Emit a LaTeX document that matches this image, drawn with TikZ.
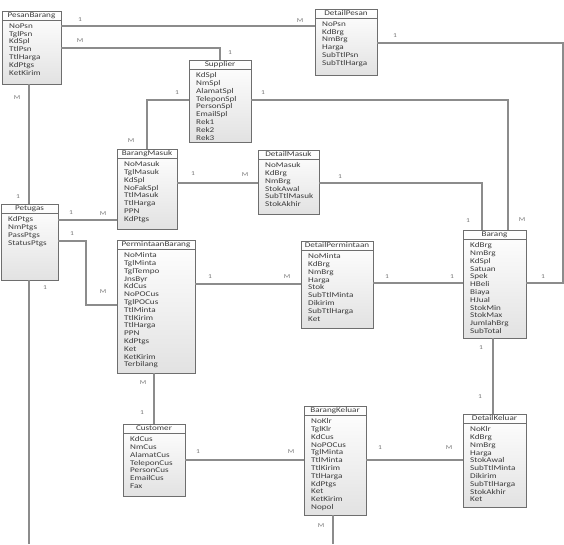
\documentclass[tikz,border=0pt]{standalone}
\usepackage{fontspec}
\newfontfamily\erfont[FakeStretch=1.25]{Carlito}
\usepackage{tikz}
\usetikzlibrary{positioning, calc, shadows}
\definecolor{boxline}{RGB}{110,110,110}
\definecolor{boxtop}{RGB}{255,255,255}
\definecolor{boxbot}{RGB}{226,226,226}
\definecolor{connline}{RGB}{140,140,140}
\definecolor{txtdark}{RGB}{60,60,60}
\definecolor{lblgray}{RGB}{120,120,120}
\tikzset{
  entbox/.style={rectangle, draw=boxline, top color=boxtop, bottom color=boxbot,
    line width=0.8pt, inner sep=0pt, outer sep=0pt, anchor=north west,
    drop shadow={shadow xshift=1.3pt, shadow yshift=-1.3pt, fill=black!45, opacity=0.5}},
  enttitle/.style={font=\erfont\fontsize{7.3}{7.8}\selectfont, text=txtdark,
    inner sep=0pt, text height=4.8pt, text depth=1.4pt},
  entattr/.style={font=\erfont\fontsize{7.3}{7.8}\selectfont, text=txtdark,
    align=left, inner xsep=0pt, inner ysep=3pt, anchor=north west},
  hdrline/.style={draw=boxline, line width=0.8pt},
  conn/.style={draw=connline, line width=1.1pt},
  lbl/.style={font=\erfont\fontsize{6}{6}\selectfont, text=lblgray, inner sep=0pt}
}
% entity box: name, x, y, width, height, title, attributes
\newcommand{\entity}[7]{%
  \node[entbox, minimum width=#4pt, minimum height=#5pt] (#1) at (#2,#3) {};
  \draw[hdrline] ([yshift=-9.5pt]#1.north west) -- ([yshift=-9.5pt]#1.north east);
  \node[enttitle] (#1-title) at ([yshift=-4.9pt]#1.north) {#6};
  \node[entattr] (#1-attr) at ([xshift=7pt,yshift=-9.5pt]#1.north west) {#7};
}

\begin{document}
\begin{tikzpicture}[x=1pt, y=-1pt]
  \fill[white] (0,0) rectangle (564,544);
  \useasboundingbox (0,0) rectangle (564,544);

  % entities
  \entity{pesan}{2}{11}{59}{73}{PesanBarang}{NoPsn\\TglPsn\\KdSpl\\TtlPsn\\TtlHarga\\KdPtgs\\KetKirim}
  \entity{detpesan}{315}{9}{62}{66}{DetailPesan}{NoPsn\\KdBrg\\NmBrg\\Harga\\SubTtlPsn\\SubTtlHarga}
  \entity{supplier}{189}{60}{62}{82}{Supplier}{KdSpl\\NmSpl\\AlamatSpl\\TeleponSpl\\PersonSpl\\EmailSpl\\Rek1\\Rek2\\Rek3}
  \entity{brgmasuk}{117}{149}{60}{80}{BarangMasuk}{NoMasuk\\TglMasuk\\KdSpl\\NoFakSpl\\TtlMasuk\\TtlHarga\\PPN\\KdPtgs}
  \entity{detmasuk}{258}{150}{61}{64}{DetailMasuk}{NoMasuk\\KdBrg\\NmBrg\\StokAwal\\SubTtlMasuk\\StokAkhir}
  \entity{petugas}{1}{204}{57}{76}{Petugas}{KdPtgs\\NmPtgs\\PassPtgs\\StatusPtgs}
  \entity{minta}{117}{240}{78}{133}{PermintaanBarang}{NoMinta\\TglMinta\\TglTempo\\JnsByr\\KdCus\\NoPOCus\\TglPOCus\\TtlMinta\\TtlKirim\\TtlHarga\\PPN\\KdPtgs\\Ket\\KetKirim\\Terbilang}
  \entity{detminta}{301}{241}{72}{87}{DetailPermintaan}{NoMinta\\KdBrg\\NmBrg\\Harga\\Stok\\SubTtlMinta\\Dikirim\\SubTtlHarga\\Ket}
  \entity{barang}{463}{230}{63}{108}{Barang}{KdBrg\\NmBrg\\KdSpl\\Satuan\\Spek\\HBeli\\Biaya\\HJual\\StokMin\\StokMax\\JumlahBrg\\SubTotal}
  \entity{customer}{123}{424}{62}{72}{Customer}{KdCus\\NmCus\\AlamatCus\\TeleponCus\\PersonCus\\EmailCus\\Fax}
  \entity{brgkeluar}{304}{406}{62}{109}{BarangKeluar}{NoKlr\\TglKlr\\KdCus\\NoPOCus\\TglMinta\\TtlMinta\\TtlKirim\\TtlHarga\\KdPtgs\\Ket\\KetKirim\\Nopol}
  \entity{detkeluar}{463}{414}{63}{93}{DetailKeluar}{NoKlr\\KdBrg\\NmBrg\\Harga\\StokAwal\\SubTtlMinta\\Dikirim\\SubTtlHarga\\StokAkhir\\Ket}

  % relations
  \draw[conn] (pesan.east |- 0,26) -- (detpesan.west |- 0,26)
    node[lbl] at (80,20) {1} node[lbl] at (300,21) {M};
  \draw[conn] (pesan.east |- 0,48) -| (supplier.north)
    node[lbl] at (80,41) {M} node[lbl] at (230,53) {1};
  \draw[conn] (pesan.south -| 29,0) -- (petugas.north -| 29,0)
    node[lbl] at (17,98) {M} node[lbl] at (18,197) {1};
  \draw[conn] (detpesan.east |- 0,43) -| (563,283) -- (barang.east |- 0,283)
    node[lbl] at (395,36) {1} node[lbl] at (543,277) {1};
  \draw[conn] (supplier.west |- 0,100) -| (brgmasuk.north)
    node[lbl] at (177,93) {1} node[lbl] at (131,141) {M};
  \draw[conn] (supplier.east |- 0,100) -| (barang.north -| 508,0)
    node[lbl] at (263,93) {1} node[lbl] at (522,220) {M};
  \draw[conn] (brgmasuk.east |- 0,183) -- (detmasuk.west |- 0,183)
    node[lbl] at (193,174) {1} node[lbl] at (245,175) {M};
  \draw[conn] (detmasuk.east |- 0,183) -| (barang.north -| 482,0)
    node[lbl] at (340,177) {1} node[lbl] at (468,221) {1};
  \draw[conn] (petugas.east |- 0,220) -- (brgmasuk.west |- 0,220)
    node[lbl] at (71,213) {1} node[lbl] at (103,214) {M};
  \draw[conn] (petugas.east |- 0,241) -| (86,305) -- (minta.west |- 0,305)
    node[lbl] at (72,234) {1} node[lbl] at (103,292) {M};
  \draw[conn] (petugas.south -| 29,0) -- (29,544)
    node[lbl] at (45,288) {1};
  \draw[conn] (minta.east |- 0,284) -- (detminta.west |- 0,284)
    node[lbl] at (210,277) {1} node[lbl] at (287,277) {M};
  \draw[conn] (detminta.east |- 0,283) -- (barang.west |- 0,283)
    node[lbl] at (387,277) {1} node[lbl] at (452,277) {1};
  \draw[conn] (minta.south -| 154,0) -- (customer.north -| 154,0)
    node[lbl] at (143,383) {M} node[lbl] at (142,413) {1};
  \draw[conn] (customer.east |- 0,460) -- (brgkeluar.west |- 0,460)
    node[lbl] at (198,452) {1} node[lbl] at (291,452) {M};
  \draw[conn] (brgkeluar.east |- 0,460) -- (detkeluar.west |- 0,460)
    node[lbl] at (380,448) {1} node[lbl] at (449,448) {M};
  \draw[conn] (barang.south -| 493,0) -- (detkeluar.north -| 493,0)
    node[lbl] at (481,348) {1} node[lbl] at (480,397) {1};
  \draw[conn] (brgkeluar.south -| 333,0) -- (333,544)
    node[lbl] at (321,526) {M};
\end{tikzpicture}
\end{document}
